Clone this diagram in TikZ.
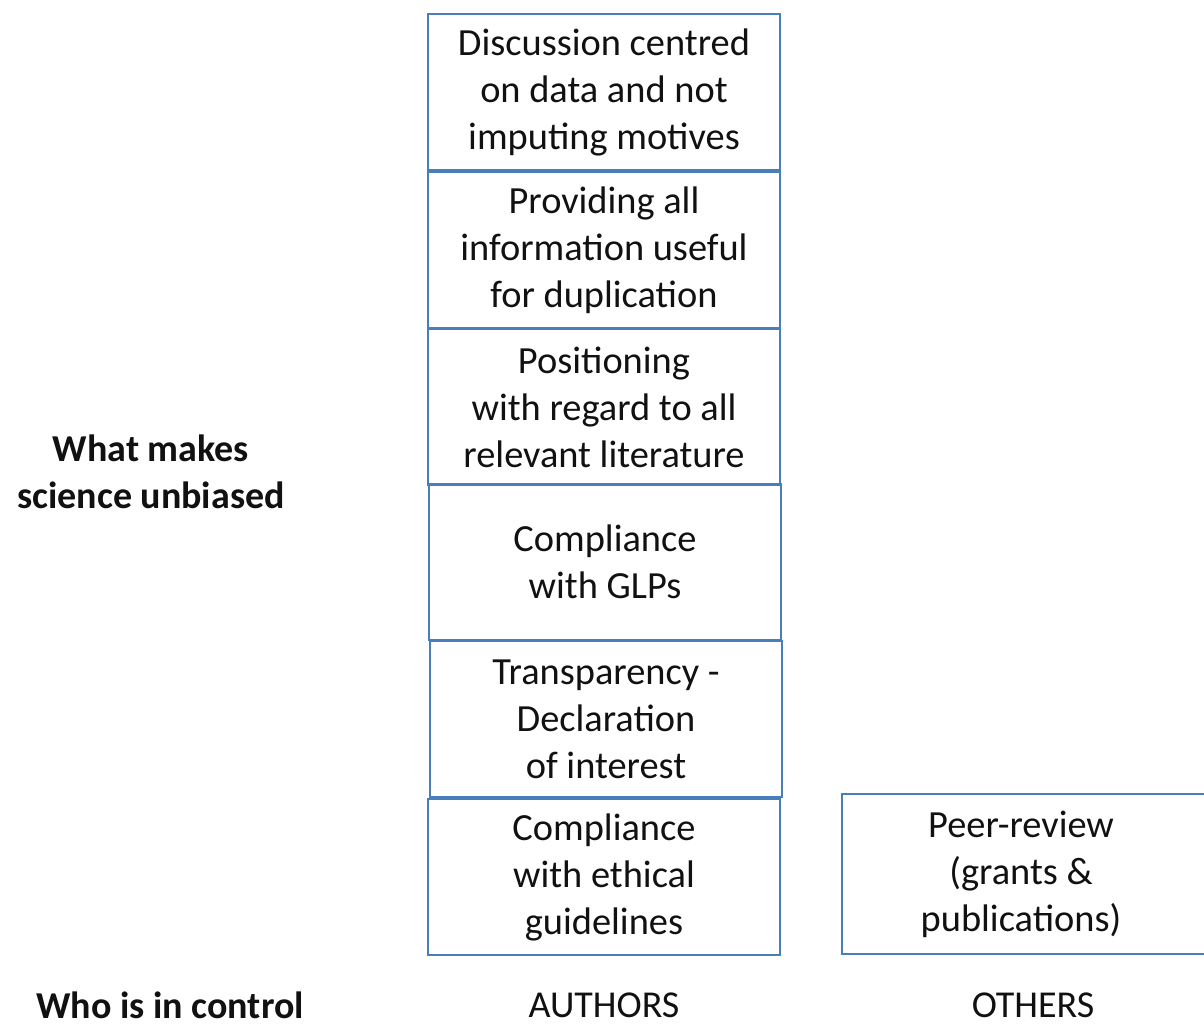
\documentclass[tikz,border=0pt]{standalone}
\usepackage{fontspec}
\setmainfont{Carlito}
\usepackage{tikz}
\definecolor{frameblue}{HTML}{4A7EBB}
\definecolor{ink}{HTML}{111111}
\tikzset{
  card/.style={draw=frameblue, line width=1.3pt, align=center, text=ink, inner sep=0pt,
    minimum width=264pt, minimum height=117pt, font=\fontsize{28.8}{35.25}\selectfont},
  opencard/.style={card, draw=none},
  frame/.style={draw=frameblue, line width=1.3pt},
  head/.style={align=center, text=ink, font=\fontsize{28.5}{35.25}\selectfont\bfseries},
  who/.style={text=ink, font=\fontsize{28.5}{35.25}\selectfont},
}

\begin{document}
\begin{tikzpicture}[x=0.75pt,y=-0.75pt]
  \useasboundingbox (0,0) rectangle (1204,1028);

  % column of what the authors do
  \node[card] (discuss) at (604,92) {Discussion centred\\on data and not\\imputing motives};
  \node[card] (provide) at (604,250) {Providing all\\information useful\\for duplication};
  \node[card] (position) at (604,407) {Positioning\\with regard to all\\relevant literature};
  \node[card] (glp) at (605,562) {Compliance\\with GLPs};
  \node[card] (transp) at (606,719) {Transparency -\\Declaration\\of interest};
  \node[card] (ethics) at (604,877) {Compliance\\with ethical\\guidelines};

  % what others do (box runs off the right edge)
  \node[opencard, minimum width=267pt, minimum height=118.5pt] (peer) at (1021,874)
    {Peer-review\\(grants \&\\publications)};
  \draw[frame] ([xshift=12pt]peer.north east) -| (peer.south west)
    -- ([xshift=12pt]peer.south east);

  % row and column labels
  \node[head] (what) at (151,472) {What makes\\science unbiased};
  \node[head] (control) at (170,1005) {Who is in control};
  \node[who] (authors) at (604,1005) {AUTHORS};
  \node[who] (others) at (1033,1005) {OTHERS};
\end{tikzpicture}
\end{document}
